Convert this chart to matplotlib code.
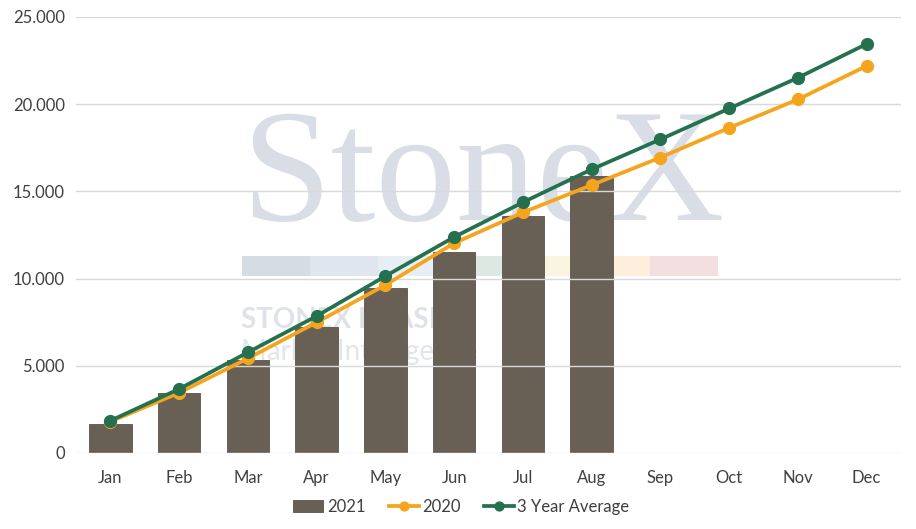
import numpy as np
import matplotlib.pyplot as plt
from matplotlib.patches import Rectangle
from matplotlib.ticker import FuncFormatter

# cumulative monthly volumes
months = ["Jan", "Feb", "Mar", "Apr", "May", "Jun", "Jul", "Aug", "Sep", "Oct", "Nov", "Dec"]
vals_2021 = [1660, 3450, 5330, 7240, 9470, 11520, 13600, 15890]
vals_2020 = [1800, 3450, 5420, 7490, 9630, 12030, 13790, 15360, 16940, 18640, 20270, 22190]
vals_avg3 = [1850, 3670, 5770, 7850, 10140, 12380, 14370, 16260, 17980, 19750, 21510, 23450]

BAR_C = "#686055"
ORANGE = "#f5a51d"
GREEN = "#24704f"
TEXT_C = "#404040"

plt.rcParams["font.family"] = ["Lato", "DejaVu Sans"]

fig = plt.figure(figsize=(9.16, 5.29), dpi=100)
ax = fig.add_axes([0.083, 0.1437, 0.9006, 0.8243])

# faint StoneX watermark behind everything
ax.text(0.200, 0.534, "StoneX", transform=ax.transAxes, fontsize=116,
        family="Liberation Serif", color="#d9dee6", zorder=0.5, va="baseline")
strip = ["#d6dce4", "#dfe6ef", "#e8eef6", "#dce8e1", "#f9f5e1", "#fdefdb", "#f3dfe0"]
for i, c in enumerate(strip):
    ax.add_patch(Rectangle((0.201 + i * 0.0825, 0.405), 0.0825, 0.046,
                           transform=ax.transAxes, color=c, zorder=0.5, lw=0))
ax.text(0.200, 0.287, "STONEX BRASIL", transform=ax.transAxes, fontsize=20,
        fontweight="bold", color="#dfe3e9", zorder=0.5, va="baseline")
ax.text(0.200, 0.213, "Market Intelligence", transform=ax.transAxes, fontsize=20,
        color="#e2e6eb", zorder=0.5, va="baseline")

x = np.arange(len(months))
bars = ax.bar(x[:len(vals_2021)], vals_2021, width=0.62, color=BAR_C, edgecolor="#5a5349",
              linewidth=0.6, zorder=2, label="2021")
l20, = ax.plot(x, vals_2020, color=ORANGE, lw=2.7, marker="o", ms=8.5, zorder=3, label="2020")
lavg, = ax.plot(x, vals_avg3, color=GREEN, lw=2.7, marker="o", ms=8.5, zorder=4,
                label="3 Year Average")

ax.set_xlim(-0.5, 11.5)
ax.set_ylim(0, 25000)
ax.set_yticks(np.arange(0, 25001, 5000))
ax.yaxis.set_major_formatter(FuncFormatter(lambda v, p: f"{int(v):,}".replace(",", ".")))
ax.set_xticks(x)
ax.set_xticklabels(months)
ax.grid(axis="y", color="#d9d9d9", lw=1, zorder=1)
ax.set_axisbelow(False)
for s in ["top", "right", "left", "bottom"]:
    ax.spines[s].set_visible(False)
ax.tick_params(axis="both", length=0, labelsize=12, colors=TEXT_C)
ax.tick_params(axis="x", pad=12)
ax.tick_params(axis="y", pad=8)

leg = ax.legend(handles=[bars, l20, lavg], loc="center", bbox_to_anchor=(0.467, -0.124),
                ncol=3, frameon=False, fontsize=12, handlelength=1.8, handletextpad=0.2,
                columnspacing=1.4, markerscale=0.75)
for t in leg.get_texts():
    t.set_color(TEXT_C)

fig.savefig("out.png", dpi=100)
